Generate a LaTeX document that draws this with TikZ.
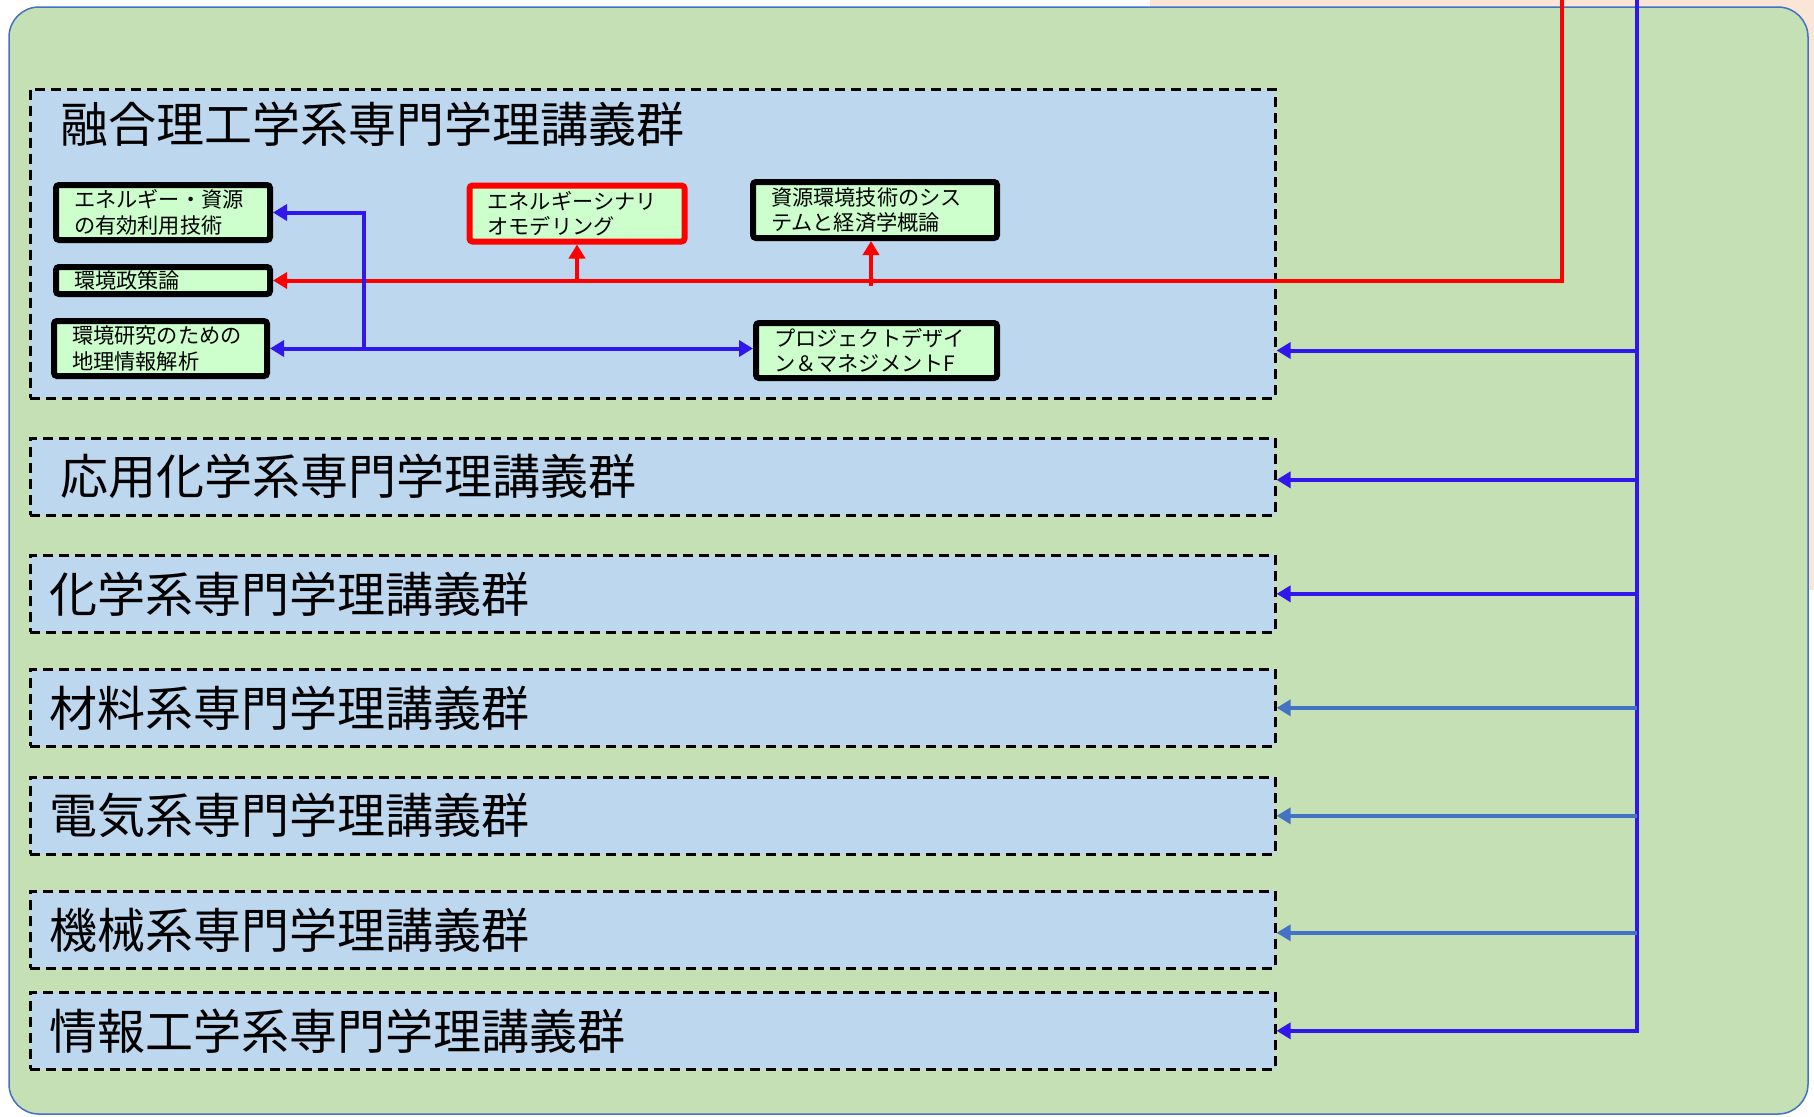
\documentclass[tikz,border=0pt]{standalone}
\usepackage{fontspec}
\setmainfont{Noto Sans CJK JP}
\usetikzlibrary{arrows.meta,calc}
\definecolor{outergreen}{HTML}{C5E0B4}
\definecolor{outerline}{HTML}{4472C4}
\definecolor{grpblue}{HTML}{BDD7EE}
\definecolor{boxgreen}{HTML}{CCFFCC}
\definecolor{peach}{HTML}{FBE5D6}
\definecolor{linkblue}{RGB}{48,24,236}
\definecolor{steel}{HTML}{4472C4}
\definecolor{linkred}{HTML}{FF0000}
\begin{document}
\begin{tikzpicture}[x=0.5pt,y=-0.5pt,
  panel/.style={draw=outerline, line width=0.75pt, fill=outergreen, rounded corners=15pt,
    minimum width=899.5pt, minimum height=553.5pt, inner sep=0pt},
  grp/.style={draw=black, line width=1.3pt, dash pattern=on 5pt off 3pt, fill=grpblue,
    minimum width=622.5pt, minimum height=38.5pt, inner sep=0pt, anchor=north west},
  ttl/.style={anchor=west, inner sep=0pt, font=\fontsize{24pt}{28pt}\selectfont},
  sbox/.style={draw=black, line width=3pt, fill=boxgreen, rounded corners=1.5pt,
    inner xsep=9pt, inner ysep=0pt, align=left, minimum height=27.5pt,
    font=\fontsize{10.6pt}{12.8pt}\selectfont},
  bl/.style={draw=linkblue, line width=2pt, -{Triangle[length=7pt,width=8pt]}},
  blboth/.style={draw=linkblue, line width=2pt, {Triangle[length=7pt,width=8pt]}-{Triangle[length=7pt,width=8pt]}},
  st/.style={draw=steel, line width=1.7pt, -{Triangle[length=7pt,width=8pt]}},
  rl/.style={draw=linkred, line width=2pt, -{Triangle[length=7pt,width=8pt]}}
]
\useasboundingbox (0,0) rectangle (1814,1116);
\clip (0,0) rectangle (1814,1116);
% background shape behind the panel
\fill[peach] (1150,0) rectangle (1814,590);
% outer panel
\node[panel] (panel) at (908.5,560.5) {};
% groups
\node[grp, minimum height=154.5pt] (g1) at (29,88) {};
\node[grp] (g2) at (29,437) {};
\node[grp] (g3) at (29,554) {};
\node[grp] (g4) at (29,668) {};
\node[grp] (g5) at (29,776) {};
\node[grp] (g6) at (29,890) {};
\node[grp] (g7) at (29,991) {};
% titles
\node[ttl] (t1) at (60,124) {融合理工学系専門学理講義群};
\node[ttl] (t2) at ([xshift=15.5pt,yshift=0.5pt]g2.west) {応用化学系専門学理講義群};
\node[ttl] (t3) at ([xshift=10pt]g3.west) {化学系専門学理講義群};
\node[ttl] (t4) at ([xshift=10pt]g4.west) {材料系専門学理講義群};
\node[ttl] (t5) at ([xshift=10pt]g5.west) {電気系専門学理講義群};
\node[ttl] (t6) at ([xshift=10pt]g6.west) {機械系専門学理講義群};
\node[ttl] (t7) at ([xshift=10pt]g7.west) {情報工学系専門学理講義群};
% course boxes
\node[sbox, text width=89pt] (a) at (163,212.5) {エネルギー・資源\\の有効利用技術};
\node[sbox, text width=89pt, minimum height=13.5pt] (b) at (163,280.5) {環境政策論};
\node[sbox, text width=88.5pt] (c) at (160.5,348.5) {環境研究のための\\地理情報解析};
\node[sbox, draw=linkred, line width=3pt, text width=89.5pt, minimum height=28pt] (d) at (577,213.5) {エネルギーシナリ\\オモデリング};
\node[sbox, text width=104pt, minimum height=28pt] (e) at (875,210) {資源環境技術のシス\\テムと経済学概論};
\node[sbox, text width=102.5pt] (f) at (876.5,350.5) {プロジェクトデザイ\\ン＆マネジメントF};
% blue distribution line
\coordinate (bTop) at (1637,0);
\draw[bl] (bTop) |- (g7.east);
\draw[bl] (bTop |- f.east) -- (g1.east |- f.east);
\draw[bl] ([yshift=-1.5pt]bTop |- g2.east) -- ([yshift=-1.5pt]g2.east);
\draw[bl] (bTop |- g3.east) -- (g3.east);
\draw[st] (bTop |- g4.east) -- (g4.east);
\draw[st] (bTop |- g5.east) -- (g5.east);
\draw[st] ([yshift=-1.5pt]bTop |- g6.east) -- ([yshift=-1.5pt]g6.east);
% red line
\coordinate (rTop) at (1562,0);
\draw[rl] (rTop) |- (b.east);
\draw[rl] (d.south |- b.east) -- (d.south);
\draw[rl] ($(e.south |- b.east)+(-4,5)$) -- ([xshift=-2pt]e.south);
% internal blue links
\coordinate (jn) at (364,348.5);
\draw[bl] (jn) |- (a.east);
\draw[blboth] (c.east) -- (f.west |- c.east);
\end{tikzpicture}
\end{document}
